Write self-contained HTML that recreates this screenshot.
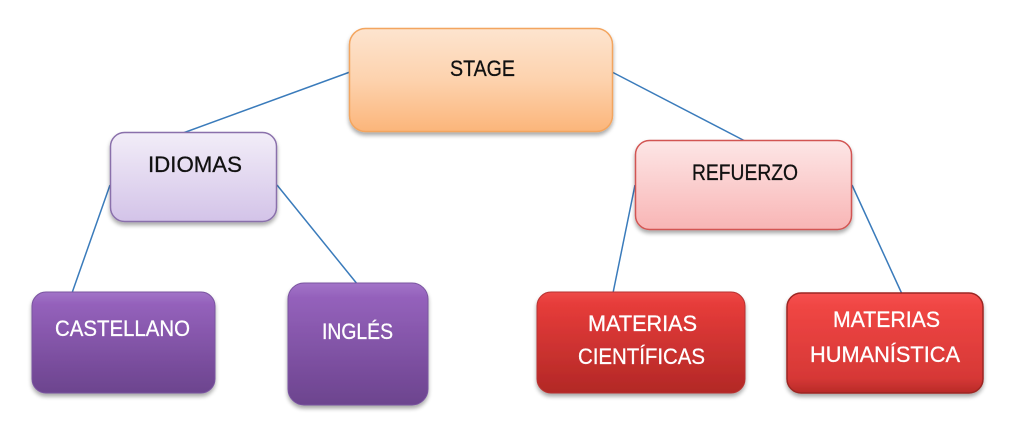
<!DOCTYPE html>
<html>
<head>
<meta charset="utf-8">
<style>
html,body{margin:0;padding:0;background:#fff;}
svg{display:block;}
text{font-family:"Liberation Sans",sans-serif;font-size:22px;}
</style>
</head>
<body>
<svg width="1011" height="427" viewBox="0 0 1011 427" xmlns="http://www.w3.org/2000/svg">
<defs>
  <linearGradient id="gStage" x1="0" y1="0" x2="0" y2="1">
    <stop offset="0" stop-color="#fde4cf"/>
    <stop offset="0.5" stop-color="#fdd2ad"/>
    <stop offset="1" stop-color="#fbb57a"/>
  </linearGradient>
  <linearGradient id="gIdi" x1="0" y1="0" x2="0" y2="1">
    <stop offset="0" stop-color="#f2edf8"/>
    <stop offset="1" stop-color="#d3c3e8"/>
  </linearGradient>
  <linearGradient id="gRef" x1="0" y1="0" x2="0" y2="1">
    <stop offset="0" stop-color="#fde6e6"/>
    <stop offset="1" stop-color="#f8b5b5"/>
  </linearGradient>
  <linearGradient id="gPur" x1="0" y1="0" x2="0" y2="1">
    <stop offset="0" stop-color="#a274c8"/>
    <stop offset="0.12" stop-color="#9461bb"/>
    <stop offset="1" stop-color="#6c448e"/>
  </linearGradient>
  <linearGradient id="gRed1" x1="0" y1="0" x2="0" y2="1">
    <stop offset="0" stop-color="#ee4a48"/>
    <stop offset="0.12" stop-color="#e63c3a"/>
    <stop offset="1" stop-color="#b22826"/>
  </linearGradient>
  <linearGradient id="gRed2" x1="0" y1="0" x2="0" y2="1">
    <stop offset="0" stop-color="#f65250"/>
    <stop offset="0.12" stop-color="#f04644"/>
    <stop offset="0.85" stop-color="#d63836"/>
    <stop offset="1" stop-color="#b82a28"/>
  </linearGradient>
  <filter id="sh" x="-10%" y="-10%" width="120%" height="130%">
    <feGaussianBlur in="SourceAlpha" stdDeviation="2"/>
    <feOffset dx="0" dy="3" result="b"/>
    <feComponentTransfer><feFuncA type="linear" slope="0.35"/></feComponentTransfer>
    <feMerge><feMergeNode/><feMergeNode in="SourceGraphic"/></feMerge>
  </filter>
</defs>

<!-- connectors -->
<g stroke="#3a7bbb" stroke-width="1.5" fill="none">
  <line x1="350" y1="72" x2="183" y2="133"/>
  <line x1="612" y1="72" x2="745" y2="141"/>
  <line x1="110" y1="185" x2="72" y2="293"/>
  <line x1="277" y1="185" x2="358" y2="285"/>
  <line x1="635" y1="185" x2="613" y2="293"/>
  <line x1="852" y1="185" x2="902" y2="294"/>
</g>

<!-- STAGE -->
<rect x="349.5" y="28.5" width="263" height="103" rx="16" fill="url(#gStage)" stroke="#f3a55f" stroke-width="1.5" filter="url(#sh)"/>
<text x="482.5" y="76" text-anchor="middle" fill="#111" stroke="#111" stroke-width="0.3" textLength="65" lengthAdjust="spacingAndGlyphs">STAGE</text>

<!-- IDIOMAS -->
<rect x="110.5" y="132.5" width="166" height="89" rx="14" fill="url(#gIdi)" stroke="#8a70ab" stroke-width="1.5" filter="url(#sh)"/>
<text x="195" y="172" text-anchor="middle" fill="#111" stroke="#111" stroke-width="0.3" textLength="94" lengthAdjust="spacingAndGlyphs">IDIOMAS</text>

<!-- REFUERZO -->
<rect x="635.5" y="140.5" width="216" height="89" rx="14" fill="url(#gRef)" stroke="#d25552" stroke-width="1.5" filter="url(#sh)"/>
<text x="745" y="180" text-anchor="middle" fill="#111" stroke="#111" stroke-width="0.3" textLength="106" lengthAdjust="spacingAndGlyphs">REFUERZO</text>

<!-- CASTELLANO -->
<rect x="32" y="292" width="183" height="101" rx="14" fill="url(#gPur)" stroke="#7a55a0" stroke-width="1" filter="url(#sh)"/>
<text x="122.5" y="336" text-anchor="middle" fill="#fff" stroke="#fff" stroke-width="0.3" textLength="135" lengthAdjust="spacingAndGlyphs">CASTELLANO</text>

<!-- INGLÉS -->
<rect x="288" y="283" width="140" height="122" rx="16" fill="url(#gPur)" stroke="#7a55a0" stroke-width="1" filter="url(#sh)"/>
<text x="357.5" y="339" text-anchor="middle" fill="#fff" stroke="#fff" stroke-width="0.3" textLength="71" lengthAdjust="spacingAndGlyphs">INGLÉS</text>

<!-- MATERIAS CIENTÍFICAS -->
<rect x="537" y="292" width="208" height="101" rx="14" fill="url(#gRed1)" stroke="#b83331" stroke-width="1" filter="url(#sh)"/>
<text x="642.5" y="331" text-anchor="middle" fill="#fff" stroke="#fff" stroke-width="0.3" textLength="109" lengthAdjust="spacingAndGlyphs">MATERIAS</text>
<text x="641.5" y="364" text-anchor="middle" fill="#fff" stroke="#fff" stroke-width="0.3" textLength="127" lengthAdjust="spacingAndGlyphs">CIENTÍFICAS</text>

<!-- MATERIAS HUMANÍSTICA -->
<rect x="787" y="293" width="196" height="100" rx="14" fill="url(#gRed2)" stroke="#9c2624" stroke-width="1.5" filter="url(#sh)"/>
<text x="886.5" y="327" text-anchor="middle" fill="#fff" stroke="#fff" stroke-width="0.3" textLength="107" lengthAdjust="spacingAndGlyphs">MATERIAS</text>
<text x="885" y="362" text-anchor="middle" fill="#fff" stroke="#fff" stroke-width="0.3" textLength="150" lengthAdjust="spacingAndGlyphs">HUMANÍSTICA</text>
</svg>
</body>
</html>
